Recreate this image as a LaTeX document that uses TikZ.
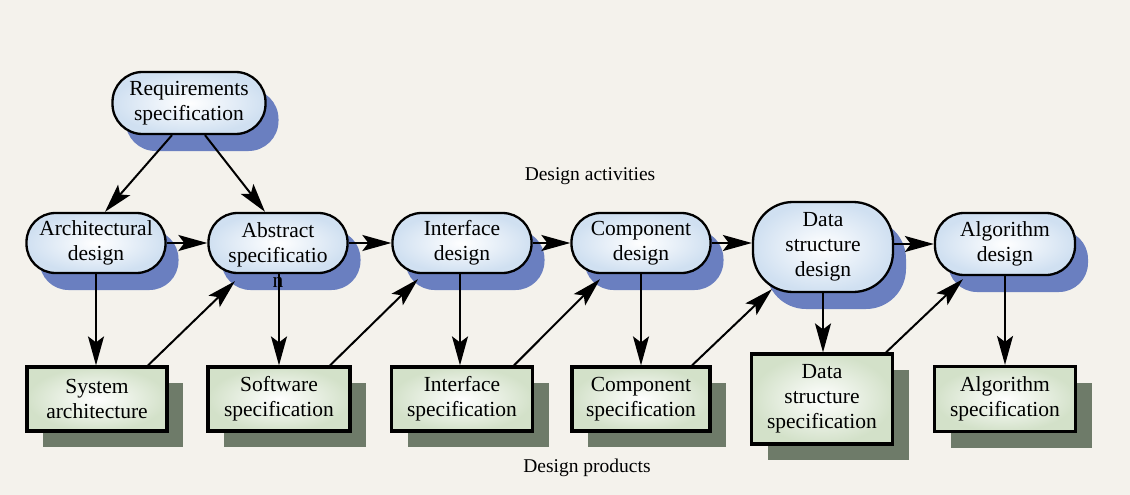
\documentclass[tikz,border=0pt]{standalone}
\usepackage{fontspec}
\setmainfont{Liberation Serif}
\usetikzlibrary{shadows,arrows.meta,calc}
\definecolor{bgc}{HTML}{F4F2EC}
\definecolor{shadowblue}{HTML}{6A7FC0}
\definecolor{shadowgreen}{HTML}{6E7B69}
\definecolor{actblue}{HTML}{D0E0F1}
\definecolor{prodgreen}{HTML}{D3E1C9}
\tikzset{
  act/.style={draw=black, line width=2.3pt, rounded corners=29pt,
    minimum width=139pt, minimum height=60pt, inner sep=0pt,
    inner color=white, outer color=actblue, align=center,
    font=\fontsize{21.5}{25}\selectfont,
    drop shadow={shadow xshift=13pt, shadow yshift=-17pt, fill=shadowblue, opacity=1}},
  prod/.style={draw=black, line width=3.2pt,
    minimum width=140pt, minimum height=64pt, inner sep=0pt,
    inner color=white, outer color=prodgreen, align=center,
    font=\fontsize{21.5}{25}\selectfont,
    drop shadow={shadow xshift=16pt, shadow yshift=-16pt, fill=shadowgreen, opacity=1}},
  arr/.style={line width=2pt, -{Stealth[length=29pt,width=16pt,inset=6pt]}},
  caption/.style={font=\fontsize{19.5}{23}\selectfont},
}
\begin{document}
\begin{tikzpicture}[x=1pt,y=-1pt]
\fill[bgc] (0,0) rectangle (1130,495);
\useasboundingbox (0,0) rectangle (1130,495);

% design activities
\node[act, minimum width=153pt, minimum height=62pt, rounded corners=30pt] (req) at (189,103) {Requirements\\specification};
\node[act] (arch) at (96,243) {Architectural\\design};
\node[act] (abs) at (278,243) {Abstract\\\ooalign{specificatio\cr\hidewidth\raisebox{-25pt}[0pt][0pt]{n}\hidewidth\cr}};
\node[act] (ifd) at (462,243) {Interface\\design};
\node[act] (cmp) at (641,243) {Component\\design};
\node[act, minimum width=140pt, minimum height=90pt, rounded corners=40pt] (dsd) at (823,247) {Data\\structure\\design};
\node[act, minimum width=140pt, minimum height=62pt] (alg) at (1005,244) {Algorithm\\design};

% design products
\node[prod] (sysarch) at (97,399) {System\\architecture};
\node[prod, minimum width=142pt] (swspec) at (279,399) {Software\\specification};
\node[prod, minimum width=141pt] (ifspec) at (462,399) {Interface\\specification};
\node[prod, minimum width=138pt] (cmpspec) at (641,399) {Component\\specification};
\node[prod, minimum width=141pt, minimum height=90pt] (dsspec) at (822,399) {Data\\structure\\specification};
\node[prod, minimum width=141pt, minimum height=65pt] (algspec) at (1005,399) {Algorithm\\specification};

% captions
\node[caption] (acts) at (590,176) {Design activities};
\node[caption] (prods) at (587,468) {Design products};

% arrows from requirements
\draw[arr] ([xshift=-17pt]req.south) -- ([xshift=9pt]arch.north);
\draw[arr] ([xshift=16pt]req.south) -- ([xshift=-13pt]abs.north);

% horizontal arrows
\draw[arr] (arch.east) -- (abs.west);
\draw[arr] (abs.east) -- (ifd.west);
\draw[arr] (ifd.east) -- (cmp.west);
\draw[arr] (cmp.east) -- (cmp.east -| dsd.west);
\draw[arr] (dsd.east |- alg.west) -- (alg.west);

% vertical arrows
\draw[arr] (arch.south) -- (arch.south |- sysarch.north);
\draw[arr] ([xshift=1pt]abs.south) -- ([xshift=1pt]abs.south |- swspec.north);
\draw[arr] ([xshift=-2pt]ifd.south) -- ([xshift=-2pt]ifd.south |- ifspec.north);
\draw[arr] (cmp.south) -- (cmp.south |- cmpspec.north);
\draw[arr] (dsd.south) -- (dsd.south |- dsspec.north);
\draw[arr] (alg.south) -- (alg.south |- algspec.north);

% diagonal arrows
\draw[arr] ([xshift=51pt]sysarch.north) -- ([xshift=-43pt,yshift=-7pt]abs.south);
\draw[arr] ([xshift=51pt]swspec.north) -- ([xshift=-44pt,yshift=-5pt]ifd.south);
\draw[arr] ([xshift=52pt]ifspec.north) -- ([xshift=-41pt,yshift=-5pt]cmp.south);
\draw[arr] ([xshift=51pt]cmpspec.north) -- ([xshift=-51pt,yshift=4pt]dsd.south);
\draw[arr] ([xshift=64pt]dsspec.north) -- ([xshift=-42pt,yshift=-3pt]alg.south);
\end{tikzpicture}
\end{document}
